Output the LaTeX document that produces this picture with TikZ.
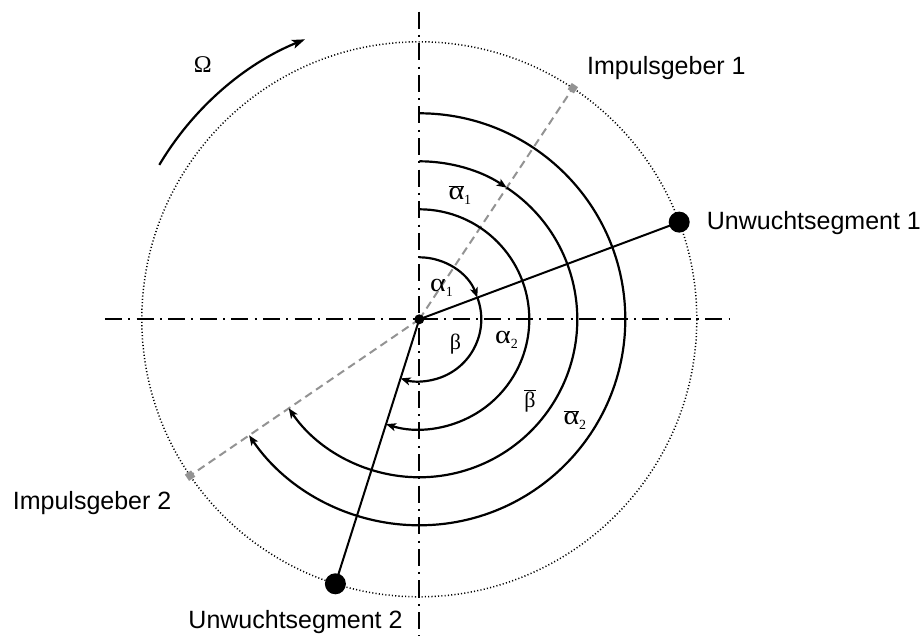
\documentclass[tikz,border=0pt]{standalone}
\usepackage{fontspec}
\setmainfont{Liberation Sans}
\newfontfamily\grk{Liberation Serif}
\usetikzlibrary{arrows.meta,backgrounds}
\newcommand{\walpha}{\scalebox{1.15}[1]{α}}
\newcommand{\subtxt}[1]{\raisebox{-5pt}{\fontsize{14}{14}\selectfont #1}}
\begin{document}
\begin{tikzpicture}[x=1pt,y=1pt,
  axis/.style={line width=1.9pt, dash pattern=on 17pt off 6.3pt on 2pt off 6.3pt},
  rim/.style={line width=1.5pt, dash pattern=on 1.1pt off 2.2pt},
  sensor/.style={line width=2pt, draw=gray!85, dash pattern=on 8pt off 5pt},
  arcline/.style={line width=2.2pt},
  ray/.style={line width=2pt},
  tip/.style={-{Stealth[length=10pt,width=8pt,inset=2.5pt]}},
  mass/.style={circle, fill=black, inner sep=0pt, minimum size=21pt},
  hub/.style={circle, fill=black, inner sep=0pt, minimum size=10pt},
  pulse/.style={rectangle, fill=gray!85, inner sep=0pt, minimum size=7.5pt},
  lbl/.style={font=\fontsize{25}{30}\selectfont, inner sep=0pt},
  alab/.style={font=\grk\fontsize{26}{28}\selectfont, inner sep=0pt, anchor=base west},
  blab/.style={font=\grk\fontsize{22}{26}\selectfont, inner sep=0pt, anchor=base}
]
\useasboundingbox (-419.3,-316.7) rectangle (503.7,319.3);
% nodes
\node[hub] (hub) at (0,0) {};
\node[mass] (u1) at (20.5:277.5) {};
\node[mass] (u2) at (252.4:277.5) {};
\node[pulse, rotate=56.4] (i1) at (56.4:277.5) {};
\node[pulse, rotate=214.3] (i2) at (214.3:277.5) {};
\coordinate (axL) at (-314.3,0);
\coordinate (axR) at (310.7,0);
\coordinate (axT) at (0,307.6);
\coordinate (axB) at (0,-316.7);
\begin{scope}[on background layer]
  \draw[rim] (hub.center) circle[radius=277.5];
  \draw[axis] (axT) -- (axB);
  \draw[axis] (axL) -- (axR);
  \draw[sensor] (hub.center) -- (i1.center);
  \draw[sensor] (hub.center) -- (i2.center);
  \draw[ray] (hub.center) -- (u1.center);
  \draw[ray] (hub.center) -- (u2.center);
\end{scope}
% angle arcs
\draw[arcline,tip] (90:62) arc[start angle=90,end angle=20.5,radius=62];
\draw[arcline,tip] (20.5:62) arc[start angle=20.5,end angle=-107.6,radius=62];
\draw[arcline,tip] (90:110) arc[start angle=90,end angle=-107.6,radius=110];
\draw[arcline,tip] (90:158) arc[start angle=90,end angle=56.4,radius=158];
\draw[arcline,tip] (56.4:158) arc[start angle=56.4,end angle=-145.7,radius=158];
\draw[arcline,tip] (90:206) arc[start angle=90,end angle=-145.7,radius=206];
% rotation arrow
\draw[arcline,-{Stealth[length=13pt,width=9pt,inset=3pt]}] (149.3:302.4) arc[start angle=149.3,end angle=112.2,radius=302.4];
\node[font=\grk\fontsize{24}{28}\selectfont, inner sep=0pt, anchor=base] (omega) at (-216.6,246.8) {Ω};
% labels
\node[lbl, anchor=base west] (t1) at (167.7,244.3) {Impulsgeber 1};
\node[lbl, anchor=base west] (t2) at (287.4,89.3) {Unwuchtsegment 1};
\node[lbl, anchor=base west] (t3) at (-406.6,-190.7) {Impulsgeber 2};
\node[lbl, anchor=base west] (t4) at (-231,-309) {Unwuchtsegment 2};
% greek labels
\node[alab] (a1bar) at (29,119.3) {$\overline{\hbox{\walpha}}$\subtxt{1}};
\node[alab] (a1) at (10.7,27.6) {\walpha\subtxt{1}};
\node[blab] (b) at (36.2,-30.5) {β};
\node[alab] (a2) at (75.7,-24.7) {\walpha\subtxt{2}};
\node[blab] (bbar) at (110.7,-88) {$\overline{\hbox{β}}$};
\node[alab] (a2bar) at (144,-105.7) {$\overline{\hbox{\walpha}}$\subtxt{2}};
\end{tikzpicture}
\end{document}
